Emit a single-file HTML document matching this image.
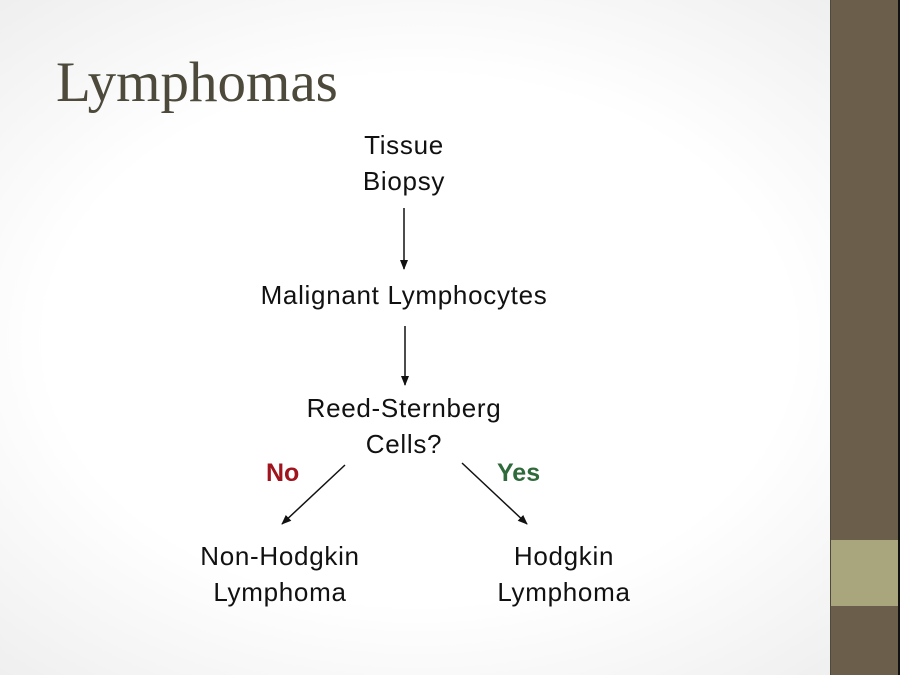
<!DOCTYPE html>
<html><head><style>
body{margin:0;width:900px;height:675px;overflow:hidden;background:radial-gradient(ellipse at 420px 340px,#ffffff 55%,#ececec 100%);position:relative;font-family:"Liberation Sans",sans-serif;}
.bar{position:absolute;left:830px;top:0;width:68px;height:675px;background:#6b5f4b;border-left:1px solid #4e4a3a;}
.blk{position:absolute;left:831px;top:540px;width:67px;height:66px;background:#a9a57d;}
.edge{position:absolute;left:898px;top:0;width:2px;height:675px;background:#111;}
.t{position:absolute;color:#111;font-size:26px;letter-spacing:0.7px;text-align:center;line-height:36px;white-space:nowrap;}
h1{position:absolute;left:56px;top:50px;margin:0;font-family:"Liberation Serif",serif;font-weight:normal;font-size:57px;color:#4d4a3c;}
</style></head><body>
<div class="bar"></div><div class="blk"></div><div class="edge"></div>
<h1>Lymphomas</h1>
<div class="t" style="left:304px;top:127px;width:200px">Tissue<br>Biopsy</div>
<div class="t" style="left:204px;top:277px;width:400px">Malignant Lymphocytes</div>
<div class="t" style="left:254px;top:390px;width:300px">Reed-Sternberg<br>Cells?</div>
<div class="t" style="left:160px;top:538px;width:240px">Non-Hodgkin<br>Lymphoma</div>
<div class="t" style="left:444px;top:538px;width:240px">Hodgkin<br>Lymphoma</div>
<div class="t" style="left:266px;top:455px;font-weight:bold;color:#a0141e;font-size:25px;letter-spacing:0;">No</div>
<div class="t" style="left:497px;top:455px;font-weight:bold;color:#2e6a3a;font-size:25px;letter-spacing:0;">Yes</div>
<svg width="900" height="675" style="position:absolute;left:0;top:0">
<defs><marker id="a" markerWidth="10" markerHeight="8" refX="9" refY="4" orient="auto" markerUnits="userSpaceOnUse"><path d="M0,0L10,4L0,8z" fill="#111"/></marker></defs>
<g stroke="#111" stroke-width="1.5" marker-end="url(#a)">
<line x1="404" y1="208" x2="404" y2="269"/>
<line x1="405" y1="326" x2="405" y2="385"/>
<line x1="345" y1="465" x2="282" y2="524"/>
<line x1="462" y1="463" x2="527" y2="524"/>
</g></svg>
</body></html>
